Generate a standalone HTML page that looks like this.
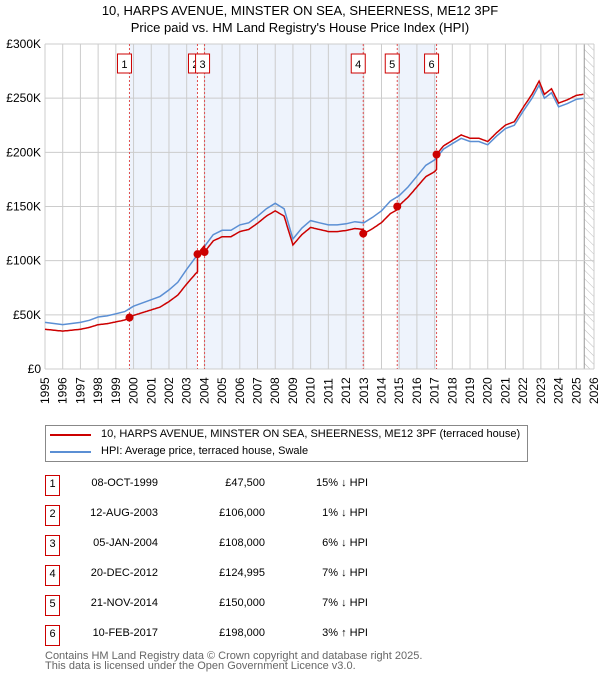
<!DOCTYPE html>
<html><head><meta charset="utf-8"><style>
body{margin:0;width:600px;height:680px;background:#fff;font-family:"Liberation Sans","DejaVu Sans",sans-serif;overflow:hidden;position:relative}
</style></head><body>
<div style="position:absolute;top:2px;left:0;width:600px;text-align:center;font-size:13px;line-height:17px">10, HARPS AVENUE, MINSTER ON SEA, SHEERNESS, ME12 3PF<br>Price paid vs. HM Land Registry's House Price Index (HPI)</div>
<svg id="c" width="600" height="420" style="position:absolute;left:0;top:0"></svg>
<div style="position:absolute;left:45px;top:425px;width:481px;height:35px;border:1px solid #888;font-size:11px">
<div style="position:absolute;left:4px;top:8px;width:41px;height:2px;background:#cc0000"></div>
<div style="position:absolute;left:55px;top:2px">10, HARPS AVENUE, MINSTER ON SEA, SHEERNESS, ME12 3PF (terraced house)</div>
<div style="position:absolute;left:4px;top:25px;width:41px;height:2px;background:#5b8fd4"></div>
<div style="position:absolute;left:55px;top:19px">HPI: Average price, terraced house, Swale</div>
</div>
<div id="tbl"></div>
<div style="position:absolute;left:45px;top:651px;font-size:11px;color:#666;line-height:10px">Contains HM Land Registry data © Crown copyright and database right 2025.<br>This data is licensed under the Open Government Licence v3.0.</div>
<script>
const hpiYears=[1995,1995.5,1996,1996.5,1997,1997.5,1998,1998.5,1999,1999.5,2000,2000.5,2001,2001.5,2002,2002.5,2003,2003.5,2004,2004.5,2005,2005.5,2006,2006.5,2007,2007.5,2008,2008.5,2009,2009.5,2010,2010.5,2011,2011.5,2012,2012.5,2013,2013.5,2014,2014.5,2015,2015.5,2016,2016.5,2017,2017.5,2018,2018.5,2019,2019.5,2020,2020.5,2021,2021.5,2022,2022.5,2022.9,2023.2,2023.6,2024,2024.5,2025,2025.4];
const hpiValues=[43,42,41,42,43,45,48,49,51,53,58,61,64,67,73,80,92,103,113,124,128,128,133,135,141,148,153,148,120,130,137,135,133,133,134,136,135,140,146,155,160,168,178,188,193,203,208,213,210,210,207,215,222,225,238,250,262,250,255,242,245,249,250];
const saleNums=["1","2","3","4","5","6"];
const saleDates=["08-OCT-1999","12-AUG-2003","05-JAN-2004","20-DEC-2012","21-NOV-2014","10-FEB-2017"];
const saleTimes=[1999.77,2003.61,2004.01,2012.97,2014.89,2017.11];
const salePrices=[47500,106000,108000,124995,150000,198000];
const saleLabels=["£47,500","£106,000","£108,000","£124,995","£150,000","£198,000"];
const saleHpi=["15% ↓ HPI","1% ↓ HPI","6% ↓ HPI","7% ↓ HPI","7% ↓ HPI","3% ↑ HPI"];
const yTicks=[0,50,100,150,200,250,300];
const NS="http://www.w3.org/2000/svg";
const svg=document.getElementById('c');
const X0=45,X1=594,Y0=369,Y1=44;
const x=t=>X0+(t-1995)/(2026-1995)*(X1-X0);
const y=v=>Y0-v/300*(Y0-Y1);
function mk(tag,a,parent){const e=document.createElementNS(NS,tag);for(const k in a)e.setAttribute(k,a[k]);(parent||svg).appendChild(e);return e;}
function hpiAt(t){if(t<=hpiYears[0])return hpiValues[0];for(let i=1;i<hpiYears.length;i++){if(t<=hpiYears[i]){const f=(t-hpiYears[i-1])/(hpiYears[i]-hpiYears[i-1]);return hpiValues[i-1]+f*(hpiValues[i]-hpiValues[i-1]);}}return hpiValues[hpiValues.length-1];}
for(let i=0;i<saleTimes.length;i+=2){const a=saleTimes[i],b=i+1<saleTimes.length?saleTimes[i+1]:saleTimes[i];
const r=mk('rect',{x:x(a),y:Y1,width:x(b)-x(a),height:Y0-Y1,fill:'#eef3fc'});

}
const hx=x(2025.45);
const defs=mk('defs',{});const p=mk('pattern',{id:'h',width:6,height:6,patternUnits:'userSpaceOnUse',patternTransform:'rotate(-45)'},defs);mk('line',{x1:0,y1:0,x2:0,y2:6,stroke:'#bbb','stroke-width':1},p);
const hr=mk('rect',{x:hx,y:Y1,width:X1-hx,height:Y0-Y1,fill:'url(#h)'});


mk('line',{x1:hx,y1:Y1,x2:hx,y2:Y0,stroke:'#999','stroke-width':1});
for(let yr=1995;yr<=2026;yr++){const gx=x(yr);mk('line',{x1:gx,y1:Y1,x2:gx,y2:Y0,stroke:'#ccc','stroke-width':1});
const tx=mk('text',{x:0,y:0,transform:`translate(${gx+4},${Y0+35}) rotate(-90)`,'font-size':12,'font-family':'Liberation Sans, DejaVu Sans, sans-serif',fill:'#000'});tx.textContent=yr;

}
yTicks.forEach(v=>{mk('line',{x1:X0,y1:y(v),x2:X1,y2:y(v),stroke:'#ccc','stroke-width':1});
const tx=mk('text',{x:X0-4,y:y(v)+4,'text-anchor':'end','font-size':12,'font-family':'Liberation Sans, DejaVu Sans, sans-serif'});tx.textContent=v===0?'£0':'£'+v+'K';

});
saleTimes.forEach((t,i)=>{mk('line',{x1:x(t),y1:Y1,x2:x(t),y2:Y0,stroke:'#e05050','stroke-width':1,'stroke-dasharray':'2,2'});});
let d='';hpiYears.forEach((t,i)=>{d+=(i?'L':'M')+x(t).toFixed(1)+','+y(hpiValues[i]).toFixed(1);});
const hl=mk('path',{d:d,fill:'none',stroke:'#5b8fd4','stroke-width':1.5});


let rd='';const ts=[];for(let t=1995;t<=2025.4;t+=0.05)ts.push(+t.toFixed(2));saleTimes.forEach(s=>{ts.push(s-0.001,s);});ts.sort((a,b)=>a-b);
ts.forEach((t,i)=>{let k=0;while(k+1<saleTimes.length&&saleTimes[k+1]<=t)k++;const base=saleTimes[k]<=t?k:0;const v=salePrices[base]/1000*hpiAt(t)/hpiAt(saleTimes[base]);rd+=(i?'L':'M')+x(t).toFixed(1)+','+y(v).toFixed(1);});
const rl=mk('path',{d:rd,fill:'none',stroke:'#cc0000','stroke-width':1.5});


saleTimes.forEach((t,i)=>{const c=mk('circle',{cx:x(t),cy:y(salePrices[i]/1000),r:4,fill:'#cc0000'});


const bx=(i===1?x(t)-9:x(t)-12+(i===2?3:0));
const r=mk('rect',{x:bx,y:54,width:14,height:19,fill:'#fff',stroke:'#cc0000','stroke-width':1});


const tx=mk('text',{x:bx+7,y:68,'text-anchor':'middle','font-size':11,'font-family':'Liberation Sans, DejaVu Sans, sans-serif'});tx.textContent=saleNums[i];});
const tbl=document.getElementById('tbl');
saleNums.forEach((n,i)=>{const top=475+i*30;
const row=document.createElement('div');


row.style.cssText=`position:absolute;left:0;top:${top}px;width:600px;height:20px;font-size:11px`;
row.innerHTML=`<div style="position:absolute;left:45px;top:0;width:13px;height:19px;border:1px solid #cc0000;text-align:center;line-height:17px">${n}</div>
<div style="position:absolute;left:60px;width:98px;text-align:right;top:2px">${saleDates[i]}</div>
<div style="position:absolute;left:160px;width:105px;text-align:right;top:2px">${saleLabels[i]}</div>
<div style="position:absolute;left:270px;width:98px;text-align:right;top:2px">${saleHpi[i]}</div>`;
tbl.appendChild(row);});
</script>
</body></html>
